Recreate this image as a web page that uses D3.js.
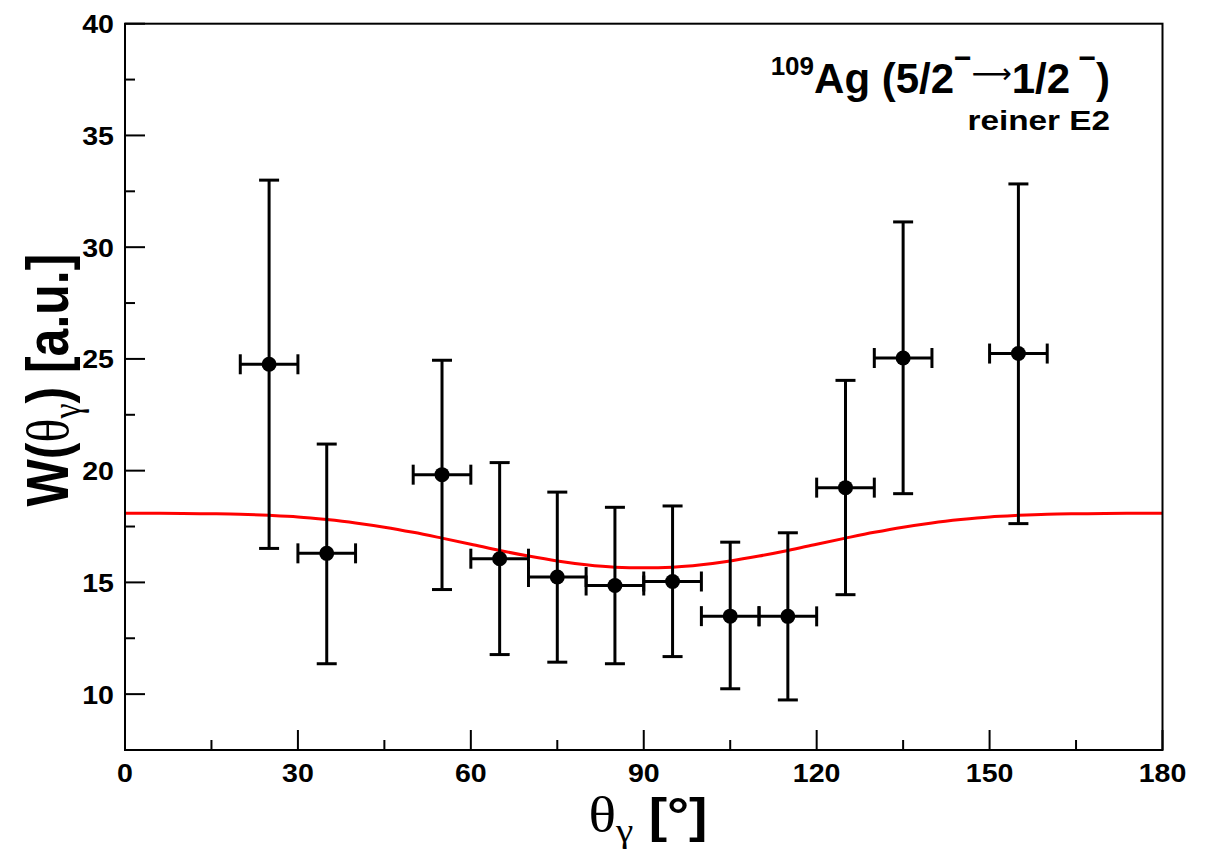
<!DOCTYPE html>
<html>
<head>
<meta charset="utf-8">
<script src="https://cdn.jsdelivr.net/npm/d3@7"></script>
<style>
  html, body { margin: 0; padding: 0; background: #fff; }
  svg { display: block; }
</style>
</head>
<body>
<svg id="chart" width="1215" height="849"></svg>
<script>
// ---- data ----
const theta    = [25, 35, 55, 65, 75, 85, 95, 105, 115, 125, 135, 155];
const thetaErr = [5, 5, 5, 5, 5, 5, 5, 5, 5, 5, 5, 5];
const W        = [24.76, 16.30, 19.82, 16.06, 15.24, 14.86, 15.04, 13.49, 13.48, 19.24, 25.04, 25.24];
const Wupper   = [33.00, 21.19, 24.94, 20.36, 19.04, 18.36, 18.42, 16.80, 17.22, 24.04, 31.13, 32.83];
const Wlower   = [16.52, 11.36, 14.68, 11.77, 11.43, 11.36, 11.68, 10.24, 9.74, 14.45, 18.97, 17.63];

// fitted curve (pure E2) at 5-degree steps
const curveTheta = [0,5,10,15,20,25,30,35,40,45,50,55,60,65,70,75,80,85,90,
                    95,100,105,110,115,120,125,130,135,140,145,150,155,160,165,170,175,180];
const curveW     = [18.09,18.09,18.08,18.07,18.05,18.00,17.93,17.81,17.66,17.47,17.24,16.98,16.71,16.43,16.18,15.96,15.79,15.68,15.65,
                    15.68,15.79,15.96,16.18,16.43,16.71,16.98,17.24,17.47,17.66,17.81,17.93,18.00,18.05,18.07,18.08,18.09,18.09];

const xMajorTicks = [0, 30, 60, 90, 120, 150, 180];
const xMinorTicks = [15, 45, 75, 105, 135, 165];
const yMajorTicks = [10, 15, 20, 25, 30, 35, 40];
const yMinorTicks = [12.5, 17.5, 22.5, 27.5, 32.5, 37.5];

// ---- layout ----
const L = 125, R = 1162.5, T = 23.7, B = 750;
const svg = d3.select("#chart");
const x = d3.scaleLinear().domain([0, 180]).range([L, R]);
const y = d3.scaleLinear().domain([7.5, 40]).range([B, T]);
const sans = "'Liberation Sans', Arial, Helvetica, sans-serif";
const serif = "'Liberation Serif', 'Times New Roman', serif";

// curve
const line = d3.line().x((d, i) => x(curveTheta[i])).y(d => y(d)).curve(d3.curveMonotoneX);
svg.append("path").attr("d", line(curveW))
  .attr("fill", "none").attr("stroke", "#ff0000").attr("stroke-width", 3);

// error bars
const g = svg.append("g").attr("stroke", "#000").attr("stroke-width", 3);
const cap = 10;
theta.forEach((t, i) => {
  const cx = x(t), cy = y(W[i]);
  const yu = y(Wupper[i]), yl = y(Wlower[i]);
  const xl = x(t - thetaErr[i]), xr = x(t + thetaErr[i]);
  g.append("line").attr("x1", cx).attr("x2", cx).attr("y1", yu).attr("y2", yl);
  g.append("line").attr("x1", cx - cap).attr("x2", cx + cap).attr("y1", yu).attr("y2", yu);
  g.append("line").attr("x1", cx - cap).attr("x2", cx + cap).attr("y1", yl).attr("y2", yl);
  g.append("line").attr("x1", xl).attr("x2", xr).attr("y1", cy).attr("y2", cy);
  g.append("line").attr("x1", xl).attr("x2", xl).attr("y1", cy - cap).attr("y2", cy + cap);
  g.append("line").attr("x1", xr).attr("x2", xr).attr("y1", cy - cap).attr("y2", cy + cap);
});
svg.append("g").selectAll("circle").data(theta).join("circle")
  .attr("cx", d => x(d)).attr("cy", (d, i) => y(W[i])).attr("r", 7.5).attr("fill", "#000");

// frame
svg.append("rect").attr("x", L).attr("y", T).attr("width", R - L).attr("height", B - T)
  .attr("fill", "none").attr("stroke", "#000").attr("stroke-width", 2);

// ticks
const tk = svg.append("g").attr("stroke", "#000").attr("stroke-width", 2);
xMajorTicks.forEach(v => tk.append("line").attr("x1", x(v)).attr("x2", x(v)).attr("y1", B).attr("y2", B - 20));
xMinorTicks.forEach(v => tk.append("line").attr("x1", x(v)).attr("x2", x(v)).attr("y1", B).attr("y2", B - 10));
yMajorTicks.forEach(v => tk.append("line").attr("x1", L).attr("x2", L + 20).attr("y1", y(v)).attr("y2", y(v)));
yMinorTicks.forEach(v => tk.append("line").attr("x1", L).attr("x2", L + 10).attr("y1", y(v)).attr("y2", y(v)));

// tick labels (slightly wide glyphs as in the reference)
const sx = 1.12;
svg.append("g").selectAll("text").data(xMajorTicks).join("text")
  .attr("transform", d => `translate(${x(d)},782) scale(${sx},1)`).attr("text-anchor", "middle")
  .attr("font-family", sans).attr("font-weight", "bold").attr("font-size", 25.5).text(d => d);
svg.append("g").selectAll("text").data(yMajorTicks).join("text")
  .attr("transform", d => `translate(114,${y(d) + 9.5}) scale(${sx},1)`).attr("text-anchor", "end")
  .attr("font-family", sans).attr("font-weight", "bold").attr("font-size", 25.5).text(d => d);

// x-axis title
const xt = svg.append("text").attr("transform", "translate(648,832) scale(1.15,1)").attr("text-anchor", "middle").attr("fill", "#000");
xt.append("tspan").attr("font-family", serif).attr("font-size", 50).text("θ");
xt.append("tspan").attr("font-family", serif).attr("font-size", 34).attr("dy", 10).text("γ");
xt.append("tspan").attr("font-family", sans).attr("font-weight", "bold").attr("font-size", 48).attr("dy", -10).text(" [°]");

// y-axis title
const yt = svg.append("text").attr("transform", "translate(68,380) rotate(-90) scale(1,1.17)")
  .attr("text-anchor", "middle").attr("fill", "#000");
yt.append("tspan").attr("font-family", sans).attr("font-weight", "bold").attr("font-size", 50).text("W(");
yt.append("tspan").attr("font-family", serif).attr("font-size", 50).text("θ");
yt.append("tspan").attr("font-family", serif).attr("font-size", 34).attr("dy", 10).text("γ");
yt.append("tspan").attr("font-family", sans).attr("font-weight", "bold").attr("font-size", 50).attr("dy", -10).text(") [a.u.]");

// annotation
const an = svg.append("text").attr("x", 1110).attr("y", 93).attr("text-anchor", "end")
  .attr("font-family", sans).attr("font-weight", "bold").attr("fill", "#000");
an.append("tspan").attr("font-size", 26).attr("dy", -18).text("109");
an.append("tspan").attr("font-size", 42).attr("dy", 18).text("Ag (5/2");
an.append("tspan").attr("font-size", 30).attr("dy", -25).text("−");
an.append("tspan").attr("font-size", 28).attr("font-weight", "normal").attr("font-family", "'DejaVu Sans', sans-serif").attr("dy", 15).text("⟶");
an.append("tspan").attr("font-size", 42).attr("dy", 10).text("1/2");
an.append("tspan").attr("font-size", 30).attr("dy", -25).text(" −");
an.append("tspan").attr("font-size", 42).attr("dy", 25).text(")");

svg.append("text").attr("transform", "translate(1110,130) scale(1.19,1)").attr("text-anchor", "end")
  .attr("font-family", sans).attr("font-weight", "bold").attr("font-size", 28).text("reiner E2");
</script>
</body>
</html>
